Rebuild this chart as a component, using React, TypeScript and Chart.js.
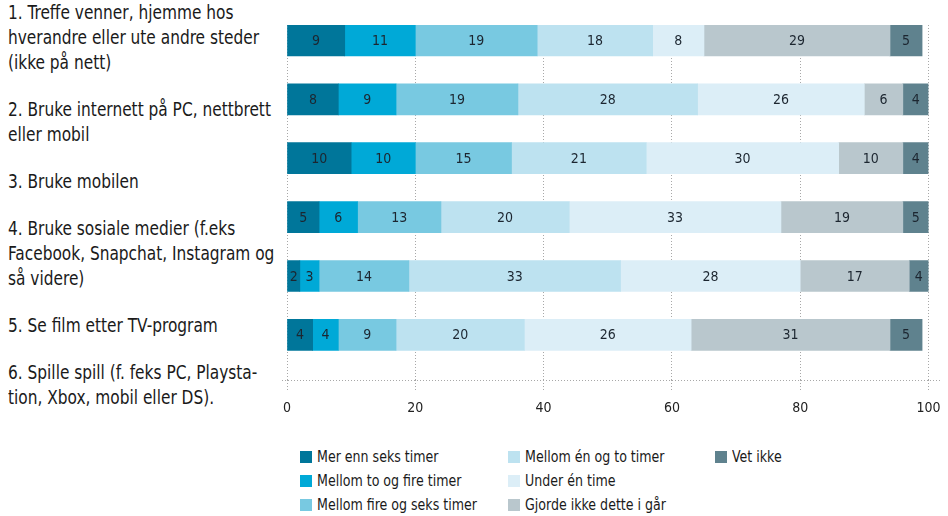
import React, { useEffect, useRef } from "react";
import { Chart, registerables } from "chart.js";

Chart.register(...registerables);

// ---- data ----
const categories: string[][] = [
  ["1. Treffe venner, hjemme hos", "hverandre eller ute andre steder", "(ikke på nett)"],
  ["2. Bruke internett på PC, nettbrett", "eller mobil"],
  ["3. Bruke mobilen"],
  ["4. Bruke sosiale medier (f.eks", "Facebook, Snapchat, Instagram og", "så videre)"],
  ["5. Se film etter TV-program"],
  ["6. Spille spill (f. feks PC, Playsta-", "tion, Xbox, mobil eller DS)."],
];
const rowIndex = [0, 1, 2, 3, 4, 5];

const seriesNames = [
  "Mer enn seks timer",
  "Mellom to og fire timer",
  "Mellom fire og seks timer",
  "Mellom én og to timer",
  "Under én time",
  "Gjorde ikke dette i går",
  "Vet ikke",
];
const merEnnSeks = [9, 8, 10, 5, 2, 4];
const mellomToOgFire = [11, 9, 10, 6, 3, 4];
const mellomFireOgSeks = [19, 19, 15, 13, 14, 9];
const mellomEnOgTo = [18, 28, 21, 20, 33, 20];
const underEn = [8, 26, 30, 33, 28, 26];
const gjordeIkke = [29, 6, 10, 19, 17, 31];
const vetIkke = [5, 4, 4, 5, 4, 5];
const seriesValues = [merEnnSeks, mellomToOgFire, mellomFireOgSeks, mellomEnOgTo, underEn, gjordeIkke, vetIkke];
const seriesColors = ["#00769a", "#00a9d7", "#78c9e1", "#bde2f0", "#dceef7", "#b9c7cd", "#5f828e"];
const xTicks = [0, 20, 40, 60, 80, 100];

const FONT = "'DejaVu Sans Condensed', 'DejaVu Sans', sans-serif";
const CANVAS_FONT = "DejaVu Sans Condensed";

const valueLabels = {
  id: "valueLabels",
  afterDatasetsDraw(chart: any) {
    const ctx = chart.ctx;
    const right = chart.chartArea.right;
    ctx.save();
    ctx.font = `14px '${CANVAS_FONT}', sans-serif`;
    ctx.fillStyle = "#1c2630";
    ctx.textAlign = "center";
    ctx.textBaseline = "middle";
    chart.data.datasets.forEach((ds: any, di: number) => {
      const meta = chart.getDatasetMeta(di);
      meta.data.forEach((el: any, i: number) => {
        const v = ds.data[i].x;
        const { x, y, base } = el.getProps(["x", "y", "base"], true);
        ctx.fillText(String(v), (Math.min(x, right) + base) / 2, y + 1);
      });
    });
    ctx.restore();
  },
};

const baseLine = {
  id: "baseLine",
  afterDraw(chart: any) {
    const { ctx, chartArea } = chart;
    ctx.save();
    ctx.strokeStyle = "#a8a8a8";
    ctx.lineWidth = 1;
    ctx.setLineDash([1, 2]);
    ctx.beginPath();
    ctx.moveTo(chartArea.left - 5, Math.round(chartArea.bottom) + 0.5);
    ctx.lineTo(chartArea.right + 12, Math.round(chartArea.bottom) + 0.5);
    ctx.stroke();
    ctx.restore();
  },
};

export default function App() {
  const ref = useRef<HTMLCanvasElement>(null);
  useEffect(() => {
    const chart = new Chart(ref.current!, {
      type: "bar",
      data: {
        datasets: seriesNames.map((name, si) => ({
          label: name,
          data: rowIndex.map((r) => ({ x: seriesValues[si][r], y: r })),
          backgroundColor: seriesColors[si],
          borderWidth: 0,
          barThickness: 31,
        })),
      },
      options: {
        indexAxis: "y",
        responsive: false,
        animation: false,
        events: [],
        layout: { padding: { left: 7, right: 19.5, top: 25, bottom: 3 } },
        plugins: { legend: { display: false }, tooltip: { enabled: false } },
        scales: {
          y: {
            type: "linear",
            display: false,
            offset: false,
            stacked: true,
            reverse: true,
            min: -0.262,
            max: 5.77,
          },
          x: {
            type: "linear",
            stacked: true,
            min: 0,
            max: 100,
            afterBuildTicks: (s: any) => {
              s.ticks = xTicks.map((v) => ({ value: v }));
            },
            afterFit: (s: any) => {
              s.paddingLeft = 0;
              s.paddingRight = 0;
            },
            grid: {
              color: "#a8a8a8",
              lineWidth: 1,
              tickLength: 10,
              tickColor: "#a8a8a8",
              tickBorderDash: [1, 2],
            },
            border: { display: false, dash: [1, 2] },
            ticks: {
              padding: 10,
              color: "#222",
              font: { family: CANVAS_FONT, size: 14 },
            },
          },
        },
      },
      plugins: [valueLabels, baseLine],
    } as any);
    return () => chart.destroy();
  }, []);

  return (
    <div
      style={{
        position: "fixed",
        left: 0,
        top: 0,
        width: 948,
        height: 516,
        background: "#fff",
        fontFamily: FONT,
        color: "#1a1a1a",
        overflow: "hidden",
      }}
    >
      <div style={{ position: "absolute", left: 8, top: 0, fontSize: 19, lineHeight: "25px", whiteSpace: "nowrap", transform: "scaleX(0.9)", transformOrigin: "0 0" }}>
        {categories.map((lines, i) => (
          <div key={i} style={{ marginBottom: 22 }}>
            {lines.map((l, j) => (
              <div key={j}>{l}</div>
            ))}
          </div>
        ))}
      </div>
      <div style={{ position: "absolute", left: 280, top: 0, lineHeight: 0 }}>
        <canvas ref={ref} width={668} height={430} style={{ display: "block" }} />
      </div>
      <div
        style={{
          position: "absolute",
          left: 300,
          top: 445,
          display: "grid",
          gridTemplateColumns: "208px 207px 200px",
          gridTemplateRows: "24px 24px 24px",
          gridAutoFlow: "column",
          fontSize: 16.5,
          lineHeight: "24px",
          whiteSpace: "nowrap",
        }}
      >
        {seriesNames.map((name, i) => (
          <div key={i} style={{ display: "flex", alignItems: "center" }}>
            <span style={{ display: "inline-block", width: 12, height: 12, background: seriesColors[i], marginRight: 5, flex: "none" }} />
            <span style={{ display: "inline-block", transform: "scaleX(0.85)", transformOrigin: "0 50%" }}>{name}</span>
          </div>
        ))}
      </div>
    </div>
  );
}
